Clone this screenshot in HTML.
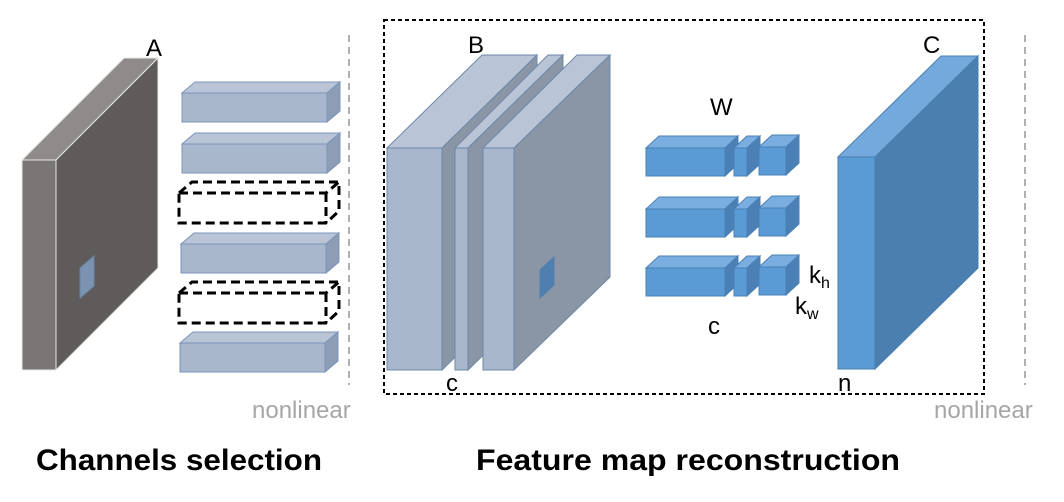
<!DOCTYPE html>
<html><head><meta charset="utf-8"><style>html,body{margin:0;padding:0;background:#fff;}svg{display:block}</style></head>
<body>
<svg width="1064" height="502" viewBox="0 0 1064 502" xmlns="http://www.w3.org/2000/svg" font-family="Liberation Sans, sans-serif">
<!-- A -->
<polygon points="22,160 124,58 158,58 56,160" fill="#8f8b8a" stroke="#e8e8e8" stroke-width="1"/>
<polygon points="22,160 56,160 56,370 22,370" fill="#7a7675" stroke="#e8e8e8" stroke-width="1"/>
<polygon points="56,160 158,58 158,268 56,370" fill="#5f5b5a" stroke="#e8e8e8" stroke-width="1"/>
<polygon points="80,268 94,256 94,286 80,298" fill="#7b93b0" stroke="#6a86aa" stroke-width="1"/>
<text x="146" y="56" font-size="24">A</text>
<!-- bars -->
<g stroke="#7b93b8" stroke-width="1">
<g id="bar">
<polygon points="182,93 195,82 340,82 327,93" fill="#b9c5d7"/>
<polygon points="327,93 340,82 340,111 327,122" fill="#8d9db6"/>
<rect x="182" y="93" width="145" height="29" fill="#a9b7cc"/>
</g>
<use href="#bar" transform="translate(0,51)"/>
<use href="#bar" transform="translate(-1,151)"/>
<use href="#bar" transform="translate(-2,250)"/>
</g>
<g fill="none" stroke="#000" stroke-width="3" stroke-dasharray="9,5">
<path d="M179,193 L192,182 L339,182 L339,211 L326,223 L179,223 Z M179,193 L326,193 L339,182 M326,193 L326,223"/>
<path d="M179,293 L192,282 L339,282 L339,311 L326,323 L179,323 Z M179,293 L326,293 L339,282 M326,293 L326,323"/>
</g>
<line x1="349" y1="35" x2="349" y2="385" stroke="#b0b0b0" stroke-width="2" stroke-dasharray="7,5"/>
<text x="252" y="418" font-size="24" fill="#a6a6a6">nonlinear</text>
<!-- dotted box -->
<rect x="384" y="20" width="600" height="374" fill="none" stroke="#000" stroke-width="2" stroke-dasharray="4,3"/>
<!-- B slabs -->
<g stroke="#6f87a8" stroke-width="1">
<polygon points="387,148 482,55 537,55 442,148" fill="#b9c5d6"/>
<polygon points="442,148 537,55 537,277 442,370" fill="#8a96a6"/>
<rect x="387" y="148" width="55" height="222" fill="#a9b7cc"/>
<polygon points="455,148 548,55 563,55 468,148" fill="#b9c5d6"/>
<polygon points="468,148 563,55 563,277 468,370" fill="#8a96a6"/>
<rect x="455" y="148" width="13" height="222" fill="#a9b7cc"/>
<polygon points="483,148 577,55 610,55 514,148" fill="#b9c5d6"/>
<polygon points="514,148 610,55 610,277 514,370" fill="#8a96a6"/>
<rect x="483" y="148" width="31" height="222" fill="#a9b7cc"/>
<polygon points="540,270 554,257 554,285 540,298" fill="#4f7fae" stroke="#4f7fae"/>
</g>
<text x="468" y="53" font-size="24">B</text>
<text x="446" y="391" font-size="24">c</text>
<!-- W -->
<g stroke="#4a80b5" stroke-width="1">
<g id="w">
<polygon points="646,148 659,136 738,136 725,148" fill="#7aaee0"/>
<polygon points="725,148 738,136 738,164 725,176" fill="#4a80b5"/>
<rect x="646" y="148" width="79" height="28" fill="#5b9bd5"/>
<polygon points="734,148 747,136 760,136 747,148" fill="#7aaee0"/>
<polygon points="747,148 760,136 760,164 747,176" fill="#4a80b5"/>
<rect x="734" y="148" width="13" height="28" fill="#5b9bd5"/>
<polygon points="759,147 772,135 799,135 786,147" fill="#7aaee0"/>
<polygon points="786,147 799,135 799,163 786,175" fill="#4a80b5"/>
<rect x="759" y="147" width="27" height="28" fill="#5b9bd5"/>
</g>
<use href="#w" transform="translate(0,61)"/>
<use href="#w" transform="translate(0,120)"/>
</g>
<text x="710" y="115" font-size="24">W</text>
<text x="708" y="334" font-size="24">c</text>
<text x="809" y="283" font-size="24">k<tspan font-size="16" dy="5">h</tspan></text>
<text x="795" y="314" font-size="24">k<tspan font-size="16" dy="5">w</tspan></text>
<!-- C -->
<g stroke="#4a7fb0" stroke-width="1">
<polygon points="838,157 941,56 978,56 875,157" fill="#74a9dd"/>
<polygon points="875,157 978,56 978,268 875,369" fill="#4a7fb0"/>
<rect x="838" y="157" width="37" height="212" fill="#5b9bd5"/>
</g>
<text x="923" y="53" font-size="24">C</text>
<text x="838" y="391" font-size="24">n</text>
<line x1="1025" y1="35" x2="1025" y2="385" stroke="#b0b0b0" stroke-width="2" stroke-dasharray="7,5"/>
<text x="934" y="418" font-size="24" fill="#a6a6a6">nonlinear</text>
<!-- titles -->
<text x="36" y="470" font-size="30" font-weight="bold" textLength="286" lengthAdjust="spacingAndGlyphs">Channels selection</text>
<text x="476" y="470" font-size="30" font-weight="bold" textLength="424" lengthAdjust="spacingAndGlyphs">Feature map reconstruction</text>
</svg>
</body></html>
